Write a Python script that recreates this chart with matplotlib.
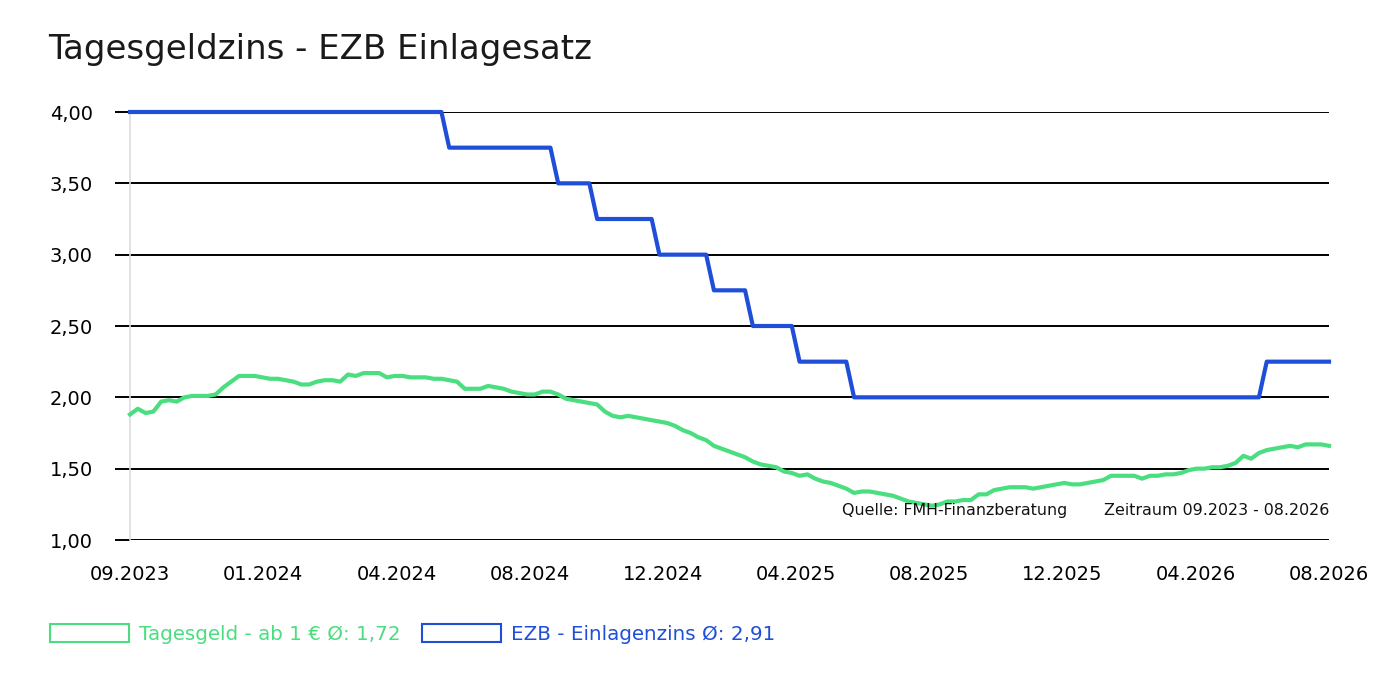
import numpy as np
import matplotlib as mpl
mpl.use("Agg")
import matplotlib.pyplot as plt
from matplotlib.patches import Patch


mpl.rcParams.update(
    {'font.family': 'DejaVu Sans', 'axes.unicode_minus': False}
    )

# weekly values, 09.2023 - 08.2026
tagesgeld = [
    1.88, 1.92, 1.89, 1.90, 1.97, 1.98, 1.97, 2.00, 2.01, 2.01,
    2.01, 2.02, 2.07, 2.11, 2.15, 2.15, 2.15, 2.14, 2.13, 2.13,
    2.12, 2.11, 2.09, 2.09, 2.11, 2.12, 2.12, 2.11, 2.16, 2.15,
    2.17, 2.17, 2.17, 2.14, 2.15, 2.15, 2.14, 2.14, 2.14, 2.13,
    2.13, 2.12, 2.11, 2.06, 2.06, 2.06, 2.08, 2.07, 2.06, 2.04,
    2.03, 2.02, 2.02, 2.04, 2.04, 2.02, 1.99, 1.98, 1.97, 1.96,
    1.95, 1.90, 1.87, 1.86, 1.87, 1.86, 1.85, 1.84, 1.83, 1.82,
    1.80, 1.77, 1.75, 1.72, 1.70, 1.66, 1.64, 1.62, 1.60, 1.58,
    1.55, 1.53, 1.52, 1.51, 1.48, 1.47, 1.45, 1.46, 1.43, 1.41,
    1.40, 1.38, 1.36, 1.33, 1.34, 1.34, 1.33, 1.32, 1.31, 1.29,
    1.27, 1.26, 1.25, 1.24, 1.25, 1.27, 1.27, 1.28, 1.28, 1.32,
    1.32, 1.35, 1.36, 1.37, 1.37, 1.37, 1.36, 1.37, 1.38, 1.39,
    1.40, 1.39, 1.39, 1.40, 1.41, 1.42, 1.45, 1.45, 1.45, 1.45,
    1.43, 1.45, 1.45, 1.46, 1.46, 1.47, 1.49, 1.50, 1.50, 1.51,
    1.51, 1.52, 1.54, 1.59, 1.57, 1.61, 1.63, 1.64, 1.65, 1.66,
    1.65, 1.67, 1.67, 1.67, 1.66,
]

# EZB deposit rate: level and number of weeks at that level
ezb_levels = [4.00, 3.75, 3.50, 3.25, 3.00, 2.75, 2.50, 2.25, 2.00, 2.25]
ezb_weeks = [41, 14, 5, 8, 7, 5, 6, 7, 53, 9]

x_labels = ["09.2023", "01.2024", "04.2024", "08.2024", "12.2024",
            "04.2025", "08.2025", "12.2025", "04.2026", "08.2026"]
y_ticks = [1.0, 1.5, 2.0, 2.5, 3.0, 3.5, 4.0]
y_labels = ["1,00", "1,50", "2,00", "2,50", "3,00", "3,50", "4,00"]
legend_names = [u"Tagesgeld - ab 1 \u20ac \u00d8: 1,72",
                u"EZB - Einlagenzins \u00d8: 2,91"]

GREEN = "#4ade80"
BLUE = "#1f4fd8"


def main():
    ezb = np.repeat(ezb_levels, ezb_weeks)
    x = np.arange(len(tagesgeld))

    fig = plt.figure(figsize=(13.84, 6.84), dpi=100)
    ax = fig.add_axes([130 / 1384, 1 - 540 / 684, 1199 / 1384, 428 / 684])

    ax.plot(x, tagesgeld, '-', color=GREEN, linewidth=3, clip_on=False,
            zorder=3)
    ax.plot(x, ezb, '-', color=BLUE, linewidth=3, clip_on=False, zorder=4)

    ax.set_xlim(0, len(x) - 1)
    ax.set_ylim(1, 4)
    ax.set_yticks(y_ticks)
    ax.set_yticklabels(y_labels)
    ax.set_xticks(np.linspace(0, len(x) - 1, len(x_labels)))
    ax.set_xticklabels(x_labels)
    ax.tick_params(axis='y', length=10.8, width=1.4, color='black', pad=16,
                   labelsize=14)
    ax.tick_params(axis='x', length=0, pad=18, labelsize=14)
    ax.yaxis.grid(True, color='black', linewidth=1.4, zorder=1)
    ax.set_axisbelow(True)
    for side in ['top', 'right', 'bottom']:
        ax.spines[side].set_visible(False)
    ax.spines['left'].set_color('#dddddd')
    ax.spines['left'].set_linewidth(1.2)

    ax.text(0.594, 0.07, "Quelle: FMH-Finanzberatung", transform=ax.transAxes,
            ha='left', va='center', fontsize=11.4, color='#111111')
    ax.text(1.0, 0.07, "Zeitraum 09.2023 - 08.2026", transform=ax.transAxes,
            ha='right', va='center', fontsize=11.4, color='#111111')

    fig.text(48 / 1384, 1 - 49 / 684, "Tagesgeldzins - EZB Einlagesatz",
             ha='left', va='center', fontsize=24.5, color='#1a1a1a')

    handles = [
        Patch(facecolor='white', edgecolor=GREEN, linewidth=1.5),
        Patch(facecolor='white', edgecolor=BLUE, linewidth=1.5),
    ]
    leg = fig.legend(handles, legend_names, loc='center left',
                     bbox_to_anchor=(50 / 1384, 1 - 634 / 684), ncol=2,
                     frameon=False, fontsize=14.3, handlelength=4.0,
                     handleheight=1.0, handletextpad=0.5, columnspacing=1.05,
                     borderpad=0, borderaxespad=0)
    for txt, col in zip(leg.get_texts(), [GREEN, BLUE]):
        txt.set_color(col)

    plt.savefig("out.png", dpi=100)
    plt.close()


if __name__ == '__main__':
    main()
